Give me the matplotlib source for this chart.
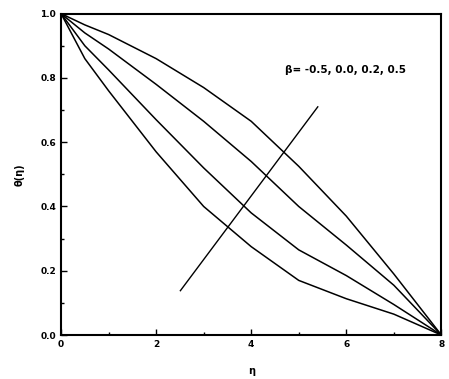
import matplotlib
matplotlib.use("Agg")
import matplotlib.pyplot as plt
from matplotlib.ticker import MultipleLocator

eta = [0, 0.5, 1, 2, 3, 4, 5, 6, 7, 8]
theta_a = [1.0, 0.965, 0.935, 0.86, 0.77, 0.665, 0.525, 0.37, 0.19, 0.0]
theta_b = [1.0, 0.94, 0.89, 0.78, 0.665, 0.54, 0.40, 0.28, 0.155, 0.0]
theta_c = [1.0, 0.9, 0.825, 0.67, 0.52, 0.38, 0.265, 0.185, 0.095, 0.0]
theta_d = [1.0, 0.86, 0.76, 0.57, 0.40, 0.275, 0.17, 0.113, 0.065, 0.0]

arrow_x = [2.51, 5.40]
arrow_y = [0.138, 0.71]
label_text = "β= -0.5, 0.0, 0.2, 0.5"

fig = plt.figure(figsize=(4.49, 3.79), dpi=100)
ax = fig.add_axes([0.136, 0.116, 0.847, 0.848])

for th in [theta_a, theta_b, theta_c, theta_d]:
    ax.plot(eta, th, color='black', lw=1.1)

ax.plot(arrow_x, arrow_y, color='black', lw=1.0)
ax.text(4.72, 0.824, label_text, fontsize=7.5, fontweight='bold', va='center')

ax.set_xlim(0, 8)
ax.set_ylim(0, 1)
ax.set_xticks([0, 2, 4, 6, 8])
ax.set_xticklabels(['0', '2', '4', '6', '8'], fontweight='bold')
ax.set_yticks([0, 0.2, 0.4, 0.6, 0.8, 1.0])
ax.set_yticklabels(['0.0', '0.2', '0.4', '0.6', '0.8', '1.0'], fontweight='bold')
ax.xaxis.set_minor_locator(MultipleLocator(1))
ax.yaxis.set_minor_locator(MultipleLocator(0.1))
ax.tick_params(which='both', direction='in', labelsize=6.5, width=1.0)
ax.tick_params(which='major', length=4)
ax.tick_params(which='minor', length=2.5)
for s in ax.spines.values():
    s.set_linewidth(1.5)

ax.set_xlabel('η', fontsize=7, fontweight='bold', labelpad=12)
ax.set_ylabel('θ(η)', fontsize=7, fontweight='bold', labelpad=11)

fig.savefig('out.png', dpi=100)
